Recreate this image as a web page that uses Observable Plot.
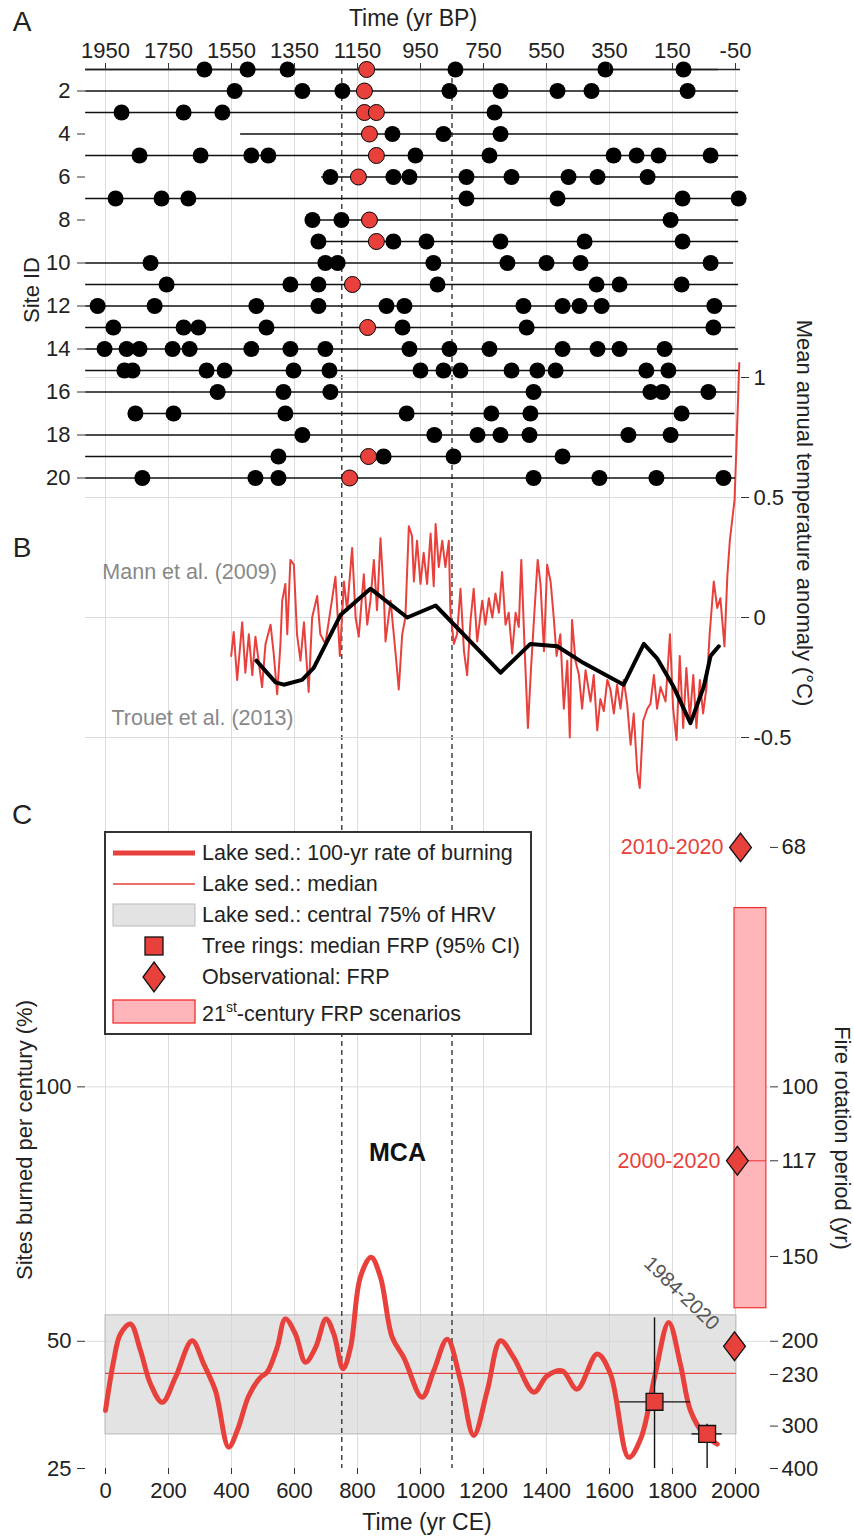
<!DOCTYPE html>
<html><head><meta charset="utf-8">
<script src="https://cdn.jsdelivr.net/npm/d3@7"></script>
<script src="https://cdn.jsdelivr.net/npm/@observablehq/plot@0.6"></script>
<style>
body{margin:0;background:#fff;}
#wrap{position:relative;width:854px;height:1536px;overflow:hidden;font-family:Arial,"Liberation Sans",sans-serif;color:#222;background:#fff;}
.lbl{position:absolute;white-space:nowrap;line-height:1;transform:translate(-50%,-50%);}
</style></head><body><div id="wrap"></div>
<script>
// ---------- tick labels ----------
const bpTicks = [1950,1750,1550,1350,1150,950,750,550,350,150,-50];
const ceTicks = [0,200,400,600,800,1000,1200,1400,1600,1800,2000];
const siteTicks = [2,4,6,8,10,12,14,16,18,20];
const tempTicks = [1,0.5,0,-0.5];
const rateTicks = [25,50,100];
const rateGrid = [50,100];
const frpTicks = [68,100,117,150,200,230,300,400];
const mcaBounds = [750,1100];

// ---------- Panel A: fire events per site (yr BP) ----------
const siteIds = [1,2,3,4,5,6,7,8,9,10,11,12,13,14,15,16,17,18,19,20];
const siteStartBP = [2013,2013,2013,1521,2013,1264,2013,1293,1274,2013,2013,2013,2013,2013,2013,2013,1864,2013,2013,2013];
const siteEndBP = [4,-60,-60,-60,-60,-60,-60,-60,-60,-44,-60,-55,-50,-60,-60,-55,-48,-48,-41,-50];
const blackEvents = [
 [1636,1499,1372,839,363,115],
 [1540,1325,1198,858,696,515,407,102],
 [1899,1702,1579,715],
 [1039,877,696],
 [1842,1648,1487,1433,966,731,337,264,194,29],
 [1236,1036,985,804,661,480,388,229],
 [1918,1772,1687,804,515,118,-60],
 [1293,1201,156],
 [1274,1036,931,696,429,118],
 [1807,1252,1213,909,674,550,442,29],
 [1756,1363,1274,896,391,318,121],
 [1975,1794,1471,1274,1058,1001,623,499,445,375,17],
 [1925,1702,1655,1439,1007,613,20],
 [1953,1883,1842,1737,1683,1487,1363,1252,985,858,731,499,388,318,175],
 [1890,1864,1629,1572,1353,1239,950,877,823,661,579,521,233,163],
 [1594,1385,1236,591,220,182,36],
 [1855,1734,1379,994,725,601,121],
 [1325,906,769,696,604,290,156],
 [1401,1067,845,499],
 [1833,1474,1401,591,382,201,-12]
];
const redEvents = [[1121],[1128],[1128,1090],[1112],[1090],[1147],[],[1112],[1090],[],[1166],[],[1118],[],[],[],[],[],[1115],[1175]];
const panelAFrameBP = [2013,-66];

// ---------- Panel B: temperature anomaly (yr CE, °C) ----------
const mannSeries = [[399,-0.16],[407,-0.06],[418,-0.26],[434,-0.02],[444,-0.23],[455,-0.07],[466,-0.24],[476,-0.08],[497,-0.29],[508,-0.11],[524,-0.03],[534,-0.15],[545,-0.32],[555,-0.12],[561,0.07],[571,0.14],[577,-0.07],[587,0.24],[598,0.22],[608,-0.07],[619,-0.18],[630,-0.02],[645,-0.31],[656,0.0],[672,0.09],[682,-0.07],[698,-0.11],[714,0.03],[730,0.17],[744,-0.16],[757,0.15],[767,0.03],[783,0.29],[794,0.0],[804,-0.08],[820,0.18],[831,-0.03],[841,0.07],[852,0.24],[862,0.03],[873,0.33],[884,0.08],[889,-0.10],[905,0.07],[921,-0.15],[931,-0.30],[942,-0.07],[952,0.0],[963,0.38],[973,0.34],[979,0.15],[989,0.32],[1000,0.14],[1010,0.27],[1021,0.14],[1032,0.35],[1042,0.13],[1048,0.39],[1058,0.21],[1069,0.32],[1079,0.21],[1090,0.32],[1095,0.02],[1106,-0.11],[1116,-0.07],[1127,0.12],[1138,-0.14],[1148,-0.24],[1159,-0.01],[1169,0.12],[1180,-0.10],[1196,0.07],[1206,-0.03],[1217,0.08],[1228,0.0],[1238,0.10],[1249,0.02],[1259,0.19],[1270,-0.03],[1280,0.02],[1291,-0.15],[1302,0.02],[1312,-0.04],[1320,0.24],[1330,-0.11],[1341,-0.46],[1351,-0.21],[1362,0.03],[1372,0.24],[1381,0.14],[1392,-0.14],[1402,0.22],[1413,0.15],[1423,0.0],[1432,-0.16],[1444,-0.07],[1455,-0.38],[1466,-0.18],[1474,-0.50],[1481,-0.01],[1492,-0.18],[1503,-0.24],[1513,-0.38],[1524,-0.22],[1540,-0.35],[1550,-0.24],[1561,-0.47],[1571,-0.34],[1582,-0.39],[1593,-0.26],[1603,-0.30],[1614,-0.40],[1624,-0.28],[1635,-0.38],[1645,-0.26],[1656,-0.36],[1667,-0.53],[1677,-0.40],[1688,-0.64],[1696,-0.71],[1707,-0.43],[1720,-0.38],[1730,-0.36],[1741,-0.24],[1751,-0.38],[1762,-0.29],[1778,-0.35],[1792,-0.07],[1802,-0.38],[1813,-0.51],[1823,-0.16],[1834,-0.46],[1844,-0.21],[1855,-0.42],[1866,-0.24],[1876,-0.46],[1887,-0.26],[1897,-0.40],[1908,-0.29],[1918,-0.07],[1931,0.15],[1942,0.04],[1952,0.08],[1965,-0.12],[1974,0.17],[1982,0.32],[1989,0.40],[1997,0.49],[2003,0.71],[2012,1.06]];
const trouetSeries = [[479,-0.18],[540,-0.27],[566,-0.28],[624,-0.26],[661,-0.21],[746,0.01],[841,0.12],[958,0.0],[1048,0.05],[1254,-0.23],[1349,-0.11],[1434,-0.12],[1518,-0.19],[1645,-0.28],[1709,-0.11],[1751,-0.17],[1804,-0.29],[1857,-0.44],[1899,-0.29],[1921,-0.16],[1947,-0.12]];
const refLabels = ["Mann et al. (2009)","Trouet et al. (2013)"];
const refLabelYear = [-10,19];
const refLabelTemp = [0.19,-0.42];

// ---------- Panel C: burning rate (% sites per century) ----------
const rateSeries = [[0,36.4],[26,46.2],[47,51.4],[79,53.4],[111,48.2],[143,41.6],[180,38.0],[222,42.9],[275,50.1],[312,45.5],[349,40.3],[391,29.2],[418,32.4],[455,39.3],[492,42.9],[513,43.9],[545,48.8],[571,54.4],[603,51.4],[635,45.9],[667,48.8],[700,54.4],[725,51.4],[754,44.6],[778,48.8],[809,62.6],[843,66.5],[873,62.6],[910,50.8],[947,46.8],[1005,39.0],[1042,44.2],[1085,50.4],[1127,42.3],[1169,31.5],[1212,40.3],[1254,50.1],[1296,46.8],[1360,40.0],[1402,43.2],[1450,44.2],[1497,40.6],[1561,47.5],[1603,43.6],[1661,27.2],[1700,31.0],[1745,43.5],[1788,53.7],[1825,45.5],[1857,36.4],[1899,31.8],[1942,29.8]];
const hrvYears = [0,2003];
const hrvRange = [31.7,55.1];
const hrvMedian = 43.7;
const treeYears = [1743,1910];
const treeRate = [38.1,31.8];
const treeYearLo = [1633,1862];
const treeYearHi = [1857,1958];
const treeRateLo = [25,25];
const treeRateHi = [54.6,33.7];
const obsLabels = ["2010-2020","2000-2020","1984-2020"];
const obsYears = [2016,2006,1997];
const obsFRP = [68,117,204];
const rotLabelPos = [1829,59.4];
const scenarioYears = [1997,2098];
const scenarioFRP = [74,177];
const mcaLabelPos = [927,87.1];

// ---------- build ----------
const red = "#e8413c";
const W = 854, H = 1536;
const wrap = document.getElementById("wrap");
function addLayer(opts){
  const p = Plot.plot({width:W, height:H,
    style:{background:"transparent", overflow:"visible", fontFamily:"Arial, 'Liberation Sans', sans-serif", fontSize:"22px", color:"#222"},
    ...opts});
  p.style.position="absolute"; p.style.left="0px"; p.style.top="0px"; p.style.maxWidth="none";
  wrap.appendChild(p);
}
const xCE = [-63.5,2108];
const fatDiamond = {draw(ctx,size){const h=Math.sqrt(size)*0.9,w=h*0.76;ctx.moveTo(0,-h);ctx.lineTo(w,0);ctx.lineTo(0,h);ctx.lineTo(-w,0);ctx.closePath();}};

// background grid + MCA bounds across A and B
addLayer({
  marginTop:69, marginBottom:H-807, marginLeft:85, marginRight:85,
  x:{domain:xCE, range:[85,769], axis:null},
  y:{domain:[0,1], axis:null},
  marks:[
    Plot.ruleX(ceTicks,{stroke:"#dcdcdc",strokeWidth:1}),
    Plot.ruleX(mcaBounds,{stroke:"#444",strokeWidth:1.5,strokeDasharray:"5,4"})
  ]
});

// Panel B
addLayer({
  marginTop:317, marginBottom:H-815, marginLeft:85, marginRight:114,
  x:{domain:[-63.5,2015.9], range:[85,740], axis:null},
  y:{domain:[-0.825,1.25], range:[815,317], axis:null},
  marks:[
    Plot.ruleY(tempTicks,{stroke:"#dcdcdc"}),
    Plot.line(mannSeries,{x:d=>d[0],y:d=>d[1],stroke:red,strokeWidth:2}),
    Plot.line(trouetSeries,{x:d=>d[0],y:d=>d[1],stroke:"#000",strokeWidth:4,strokeLinejoin:"round",strokeLinecap:"round"}),
    Plot.text(refLabels,{x:(d,i)=>refLabelYear[i],y:(d,i)=>refLabelTemp[i],text:d=>d,textAnchor:"start",fill:"#888",fontSize:21.5}),
    Plot.axisY({anchor:"right",ticks:tempTicks,tickFormat:d=>String(d),tickSize:8,tickPadding:5,line:true,label:null,stroke:"#333"})
  ]
});

// Panel A
const siteLines = siteIds.map((s,i)=>({site:s,start:siteStartBP[i],end:siteEndBP[i]}));
const blackDots = blackEvents.flatMap((a,i)=>a.map(bp=>({site:i+1,bp})));
const redDots = redEvents.flatMap((a,i)=>a.map(bp=>({site:i+1,bp})));
addLayer({
  marginTop:69, marginBottom:H-499, marginLeft:85, marginRight:85,
  x:{domain:[2013.5,-158], range:[85,769], axis:null},
  y:{domain:[1,21], range:[69,499], axis:null},
  marks:[
    Plot.ruleY(siteLines,{y:"site",x1:"start",x2:"end",stroke:"#111",strokeWidth:1.6}),
    Plot.ruleY([1],{x1:panelAFrameBP[0],x2:panelAFrameBP[1],stroke:"#222",strokeWidth:1.5}),
    Plot.dot(blackDots,{x:"bp",y:"site",r:8,fill:"#000"}),
    Plot.dot(redDots,{x:"bp",y:"site",r:8,fill:red,stroke:"#000",strokeWidth:1}),
    Plot.axisX({anchor:"top",ticks:bpTicks,tickFormat:d=>String(d),tickSize:7,tickPadding:5,label:null,stroke:"#333"}),
    Plot.axisY({anchor:"left",ticks:siteTicks,tickFormat:d=>String(d),tickSize:8,tickPadding:7,line:true,label:null,stroke:"#333"})
  ]
});

// Panel C
const trees = treeYears.map((y,i)=>({year:y,rate:treeRate[i],lo:treeRateLo[i],hi:treeRateHi[i],ylo:treeYearLo[i],yhi:treeYearHi[i]}));
const obs = obsLabels.map((l,i)=>({label:l,year:obsYears[i],rate:10000/obsFRP[i]}));
addLayer({
  marginTop:807, marginBottom:H-1468, marginLeft:85, marginRight:85,
  x:{domain:xCE, range:[85,769], axis:null},
  y:{domain:[25,154.9], range:[1468,807], axis:null},
  marks:[
    Plot.ruleX(ceTicks,{stroke:"#dcdcdc"}),
    Plot.ruleY(rateGrid,{stroke:"#dcdcdc"}),
    Plot.rect([0],{x1:hrvYears[0],x2:hrvYears[1],y1:hrvRange[0],y2:hrvRange[1],fill:"#d4d4d4",fillOpacity:0.65,stroke:"#b8b8b8",strokeWidth:1}),
    Plot.ruleY([hrvMedian],{x1:hrvYears[0],x2:hrvYears[1],stroke:red,strokeWidth:1.2}),
    Plot.ruleX(mcaBounds,{stroke:"#444",strokeWidth:1.5,strokeDasharray:"5,4"}),
    Plot.line(rateSeries,{x:d=>d[0],y:d=>d[1],curve:"catmull-rom",stroke:red,strokeWidth:5,strokeLinecap:"round"}),
    Plot.rect([0],{x1:scenarioYears[0],x2:scenarioYears[1],y1:10000/scenarioFRP[1],y2:10000/scenarioFRP[0],fill:"#ffb6bb",stroke:"#f03030",strokeWidth:1.2}),
    Plot.ruleY([obs[1]],{y:"rate",x1:"year",x2:scenarioYears[1],stroke:"#f03030",strokeWidth:1}),
    Plot.ruleX(trees,{x:"year",y1:"lo",y2:"hi",stroke:"#111",strokeWidth:1.4}),
    Plot.ruleY(trees,{y:"rate",x1:"ylo",x2:"yhi",stroke:"#111",strokeWidth:1.4}),
    Plot.dot(trees,{x:"year",y:"rate",symbol:"square",r:9.5,fill:red,stroke:"#111",strokeWidth:1.3}),
    Plot.dot(obs,{x:"year",y:"rate",symbol:fatDiamond,r:9,fill:red,stroke:"#111",strokeWidth:1.3}),
    Plot.text(obs.slice(0,2),{x:"year",y:"rate",text:"label",textAnchor:"end",dx:-17,fill:red,fontSize:21.5}),
    Plot.text([obs[2]],{x:()=>rotLabelPos[0],y:()=>rotLabelPos[1],text:"label",rotate:44,fill:"#555",fontSize:20}),
    Plot.text(["MCA"],{x:()=>mcaLabelPos[0],y:()=>mcaLabelPos[1],text:d=>d,fontWeight:"bold",fontSize:25,fill:"#111"}),
    Plot.axisX({anchor:"bottom",ticks:ceTicks,tickFormat:d=>String(d),tickSize:6,tickPadding:8,line:true,label:null,stroke:"#333"}),
    Plot.axisY({anchor:"left",ticks:rateTicks,tickFormat:d=>String(d),tickSize:8,tickPadding:6,line:true,label:null,stroke:"#333"}),
    Plot.axisY({anchor:"right",ticks:frpTicks.map(f=>10000/f),tickFormat:d=>String(Math.round(10000/d)),tickSize:8,tickPadding:4,line:true,label:null,stroke:"#333"})
  ]
});

// legend
const ns="http://www.w3.org/2000/svg";
const lg=document.createElementNS(ns,"svg");
lg.setAttribute("width",W);lg.setAttribute("height",H);
lg.style.cssText="position:absolute;left:0;top:0;pointer-events:none;font-family:Arial,'Liberation Sans',sans-serif;";
const legendItems=["Lake sed.: 100-yr rate of burning","Lake sed.: median","Lake sed.: central 75% of HRV","Tree rings: median FRP (95% CI)","Observational: FRP"];
const rowY=[853,884,915,946,977,1013];
let html=`<rect x="105" y="832" width="426" height="202" fill="#fff" stroke="#333" stroke-width="2"/>
<line x1="113" x2="195" y1="${rowY[0]}" y2="${rowY[0]}" stroke="${red}" stroke-width="5"/>
<line x1="113" x2="195" y1="${rowY[1]}" y2="${rowY[1]}" stroke="${red}" stroke-width="1.5"/>
<rect x="113" y="904" width="82" height="22" fill="#e3e3e3" stroke="#bbb"/>
<rect x="145" y="937" width="18" height="18" fill="${red}" stroke="#111" stroke-width="1.3"/>
<path d="M154,962 L165,977 L154,992 L143,977 Z" fill="${red}" stroke="#111" stroke-width="1.3"/>
<rect x="113" y="1000" width="82" height="23" fill="#ffb6bb" stroke="#f03030" stroke-width="1.3"/>`;
legendItems.forEach((t,i)=>{html+=`<text x="202" y="${rowY[i]}" dominant-baseline="central" font-size="21.5" fill="#222">${t}</text>`;});
html+=`<text x="202" y="${rowY[5]+8}" font-size="21.5" fill="#222">21<tspan dy="-9" font-size="14">st</tspan><tspan dy="9">-century FRP scenarios</tspan></text>`;
lg.innerHTML=html;
wrap.appendChild(lg);

// titles / panel letters
const labels=[
 ["A",22,22,28,0],["B",22,548,28,0],["C",22,815,28,0],
 ["Time (yr BP)",413,18,23,0],
 ["Site ID",32,290,22,-90],
 ["Mean annual temperature anomaly (°C)",804,513,22,90],
 ["Sites burned per century (%)",25,1140,22,-90],
 ["Fire rotation period (yr)",842,1138,22,90],
 ["Time (yr CE)",427,1522,23,0]
];
labels.forEach(([t,x,y,fs,rot])=>{
  const d=document.createElement("div");d.className="lbl";d.textContent=t;
  d.style.left=x+"px";d.style.top=y+"px";d.style.fontSize=fs+"px";
  d.style.transform=`translate(-50%,-50%) rotate(${rot}deg)`;
  wrap.appendChild(d);
});
</script></body></html>
